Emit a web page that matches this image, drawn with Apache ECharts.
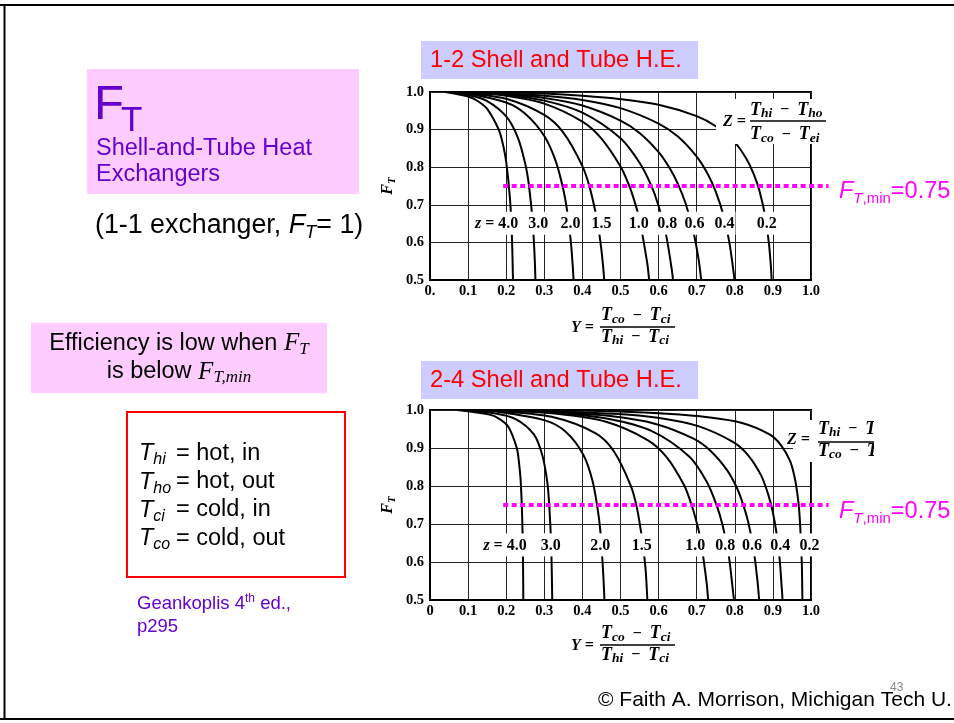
<!DOCTYPE html>
<html><head><meta charset="utf-8">
<script src="https://cdn.jsdelivr.net/npm/echarts@6/dist/echarts.min.js"></script>
<style>html,body{margin:0;padding:0;background:#fff}#c{width:954px;height:723px}</style>
</head><body><div id="c"></div>
<script>
// ---------- data ----------
const zValues = ['4.0','3.0','2.0','1.5','1.0','0.8','0.6','0.4','0.2'];

// 1-2 shell and tube exchanger: [Y, F_T]
const top_z40 = [[0.04,1.0],[0.1,0.988],[0.125,0.976],[0.15,0.955],[0.18,0.901],[0.19,0.867],[0.2,0.814],[0.21,0.715],[0.215,0.615],[0.218,0.49]];
const top_z30 = [[0.045,1.0],[0.1,0.992],[0.15,0.976],[0.2,0.935],[0.23,0.880],[0.25,0.809],[0.26,0.749],[0.27,0.647],[0.275,0.553],[0.277,0.489]];
const top_z20 = [[0.06,1.0],[0.1,0.996],[0.2,0.972],[0.25,0.942],[0.3,0.883],[0.33,0.816],[0.35,0.740],[0.36,0.683],[0.37,0.598],[0.375,0.532],[0.377,0.496]];
const top_z15 = [[0.07,1.0],[0.1,0.997],[0.2,0.982],[0.3,0.939],[0.35,0.892],[0.4,0.803],[0.42,0.743],[0.44,0.651],[0.45,0.579],[0.455,0.529],[0.458,0.489]];
const top_z10 = [[0.09,1.0],[0.2,0.990],[0.3,0.969],[0.4,0.921],[0.45,0.876],[0.5,0.802],[0.52,0.758],[0.535,0.715],[0.55,0.660],[0.57,0.546],[0.575,0.502],[0.577,0.480]];
const top_z08 = [[0.09,1.0],[0.2,0.992],[0.3,0.977],[0.4,0.945],[0.5,0.877],[0.55,0.812],[0.58,0.753],[0.6,0.697],[0.62,0.618],[0.635,0.525],[0.638,0.499],[0.64,0.478]];
const top_z06 = [[0.1,1.0],[0.2,0.994],[0.3,0.984],[0.4,0.964],[0.5,0.924],[0.55,0.891],[0.6,0.840],[0.63,0.796],[0.65,0.757],[0.67,0.706],[0.69,0.635],[0.705,0.555],[0.712,0.499],[0.715,0.468]];
const top_z04 = [[0.12,1.0],[0.3,0.990],[0.4,0.979],[0.5,0.957],[0.6,0.916],[0.65,0.882],[0.7,0.828],[0.73,0.780],[0.75,0.735],[0.77,0.673],[0.785,0.604],[0.795,0.535],[0.7985,0.506],[0.8,0.483]];
const top_z02 = [[0.18,1.0],[0.3,0.996],[0.4,0.990],[0.5,0.981],[0.6,0.966],[0.7,0.936],[0.75,0.909],[0.8,0.866],[0.83,0.823],[0.85,0.781],[0.865,0.736],[0.88,0.668],[0.89,0.593],[0.895,0.532],[0.897,0.496]];

// 2-4 shell and tube exchanger: [Y, F_T]
const bot_z40 = [[0.072,1.0],[0.156,0.988],[0.183,0.976],[0.206,0.955],[0.2275,0.901],[0.233,0.867],[0.238,0.814],[0.242,0.715],[0.244,0.615],[0.245,0.489]];
const bot_z30 = [[0.082,1.0],[0.165,0.992],[0.225,0.976],[0.273,0.935],[0.295,0.880],[0.308,0.809],[0.313,0.749],[0.318,0.647],[0.320,0.553],[0.321,0.489]];
const bot_z20 = [[0.11,1.0],[0.173,0.996],[0.304,0.972],[0.357,0.942],[0.402,0.883],[0.426,0.816],[0.440,0.740],[0.447,0.683],[0.453,0.598],[0.4565,0.532],[0.458,0.496]];
const bot_z15 = [[0.129,1.0],[0.178,0.997],[0.319,0.982],[0.434,0.939],[0.482,0.892],[0.526,0.803],[0.543,0.743],[0.558,0.651],[0.566,0.579],[0.569,0.529],[0.571,0.489]];
const bot_z10 = [[0.165,1.0],[0.333,0.990],[0.462,0.969],[0.571,0.921],[0.621,0.876],[0.667,0.802],[0.684,0.758],[0.697,0.715],[0.710,0.660],[0.726,0.546],[0.730,0.502],[0.732,0.480]];
const bot_z08 = [[0.165,1.0],[0.335,0.992],[0.467,0.977],[0.581,0.945],[0.681,0.877],[0.726,0.812],[0.751,0.753],[0.768,0.697],[0.784,0.618],[0.795,0.525],[0.798,0.499],[0.799,0.478]];
const bot_z06 = [[0.182,1.0],[0.338,0.994],[0.473,0.984],[0.590,0.964],[0.693,0.924],[0.738,0.891],[0.781,0.840],[0.805,0.796],[0.820,0.757],[0.835,0.706],[0.849,0.635],[0.859,0.555],[0.864,0.499],[0.866,0.468]];
const bot_z04 = [[0.216,1.0],[0.481,0.990],[0.602,0.979],[0.706,0.957],[0.795,0.916],[0.834,0.882],[0.869,0.828],[0.887,0.780],[0.899,0.735],[0.910,0.673],[0.918,0.604],[0.923,0.535],[0.925,0.506],[0.9254,0.483]];
const bot_z02 = [[0.320,1.0],[0.496,0.996],[0.622,0.990],[0.729,0.981],[0.819,0.966],[0.891,0.936],[0.920,0.909],[0.945,0.866],[0.957,0.823],[0.964,0.781],[0.969,0.736],[0.973,0.668],[0.976,0.593],[0.977,0.532],[0.9775,0.496]];

// curve label anchors (Y value of each z label, and its F_T level)
const topLabelX = [0.175,0.284,0.369,0.450,0.548,0.623,0.694,0.773,0.884];
const bottomLabelX = [0.197,0.317,0.447,0.556,0.696,0.775,0.845,0.919,0.996];
const topLabelY = 0.651;
const bottomLabelY = 0.645;

// F_T,min reference line
const fTmin = 0.75;
const fTminSpan = [0.192, 1.046];

// tick labels
const yTickLabels = ['0.5','0.6','0.7','0.8','0.9','1.0'];
const xTickLabelsTop = ['0.','0.1','0.2','0.3','0.4','0.5','0.6','0.7','0.8','0.9','1.0'];
const xTickLabelsBottom = ['0','0.1','0.2','0.3','0.4','0.5','0.6','0.7','0.8','0.9','1.0'];

// ---------- styling ----------
const SERIF = "'Liberation Serif', 'DejaVu Serif', serif";
const SANS = "'Liberation Sans', Arial, sans-serif";
const VIOLET = '#6600CC';
const MAGENTA = '#FF00FF';

const topCurves = [top_z40, top_z30, top_z20, top_z15, top_z10, top_z08, top_z06, top_z04, top_z02];
const bottomCurves = [bot_z40, bot_z30, bot_z20, bot_z15, bot_z10, bot_z08, bot_z06, bot_z04, bot_z02];

function curveSeries(data, gi) {
  return { type:'line', xAxisIndex:gi, yAxisIndex:gi, data, symbol:'none', showSymbol:false,
    smooth:0.3, lineStyle:{color:'#000', width:2}, z:3, silent:true };
}
function labelSeries(xs, yv, gi) {
  return { type:'scatter', xAxisIndex:gi, yAxisIndex:gi, data: xs.map(x => [x, yv]),
    symbolSize:1, itemStyle:{color:'#fff', opacity:1}, z:10, silent:true,
    label:{ show:true, position:'inside',
      formatter: p => p.dataIndex === 0 ? '{i|z} = ' + zValues[0] : zValues[p.dataIndex],
      fontFamily:SERIF, fontWeight:'bold', fontSize:16, color:'#000', opacity:1,
      textBorderWidth:0,
      backgroundColor:'#fff', padding:[4,1,3,1],
      rich:{ i:{fontFamily:SERIF, fontWeight:'bold', fontStyle:'italic', fontSize:16, color:'#000'} } } };
}
function minLine(gi) {
  return { type:'custom', xAxisIndex:gi, yAxisIndex:gi, clip:false, z:8, silent:true,
    data: [[fTminSpan[0], fTminSpan[1], fTmin]],
    encode:{ x:[0,1], y:2 },
    renderItem: (params, api) => {
      const p1 = api.coord([api.value(0), api.value(2)]);
      const p2 = api.coord([api.value(1), api.value(2)]);
      return { type:'line', shape:{x1:p1[0], y1:p1[1], x2:p2[0], y2:p2[1]},
        style:{ stroke:MAGENTA, lineWidth:4, lineDash:[5,3.5], lineCap:'butt', fill:null } };
    } };
}
function xAxisCfg(gi, labels) {
  return { gridIndex:gi, type:'value', min:0, max:1, interval:0.1,
    axisLine:{show:true, onZero:false, lineStyle:{color:'#000', width:2}},
    axisTick:{show:false},
    splitLine:{show:true, lineStyle:{color:'#222', width:1}},
    axisLabel:{ formatter: v => labels[Math.round(v*10)], fontFamily:SERIF, fontWeight:'bold',
      fontSize:14.5, color:'#000', margin:4, showMinLabel:true, showMaxLabel:true } };
}
function yAxisCfg(gi) {
  return { gridIndex:gi, type:'value', min:0.5, max:1.0, interval:0.1,
    axisLine:{show:true, onZero:false, lineStyle:{color:'#000', width:2}},
    axisTick:{show:false},
    splitLine:{show:true, lineStyle:{color:'#222', width:1}},
    axisLabel:{ formatter: v => yTickLabels[Math.round((v-0.5)*10)], fontFamily:SERIF, fontWeight:'bold',
      fontSize:14.5, color:'#000', margin:6, showMinLabel:true, showMaxLabel:true },
    name:'{f|F}{s|T}', nameLocation:'middle', nameRotate:90, nameGap:32,
    nameTextStyle:{ rich:{
      f:{fontFamily:SERIF, fontStyle:'italic', fontWeight:'bold', fontSize:16, color:'#000', lineHeight:20},
      s:{fontFamily:SERIF, fontStyle:'italic', fontWeight:'bold', fontSize:11, color:'#000', lineHeight:8, verticalAlign:'bottom'} } } };
}

// ---------- graphic helpers (slide annotations) ----------
function richSet(size, color, family, subSize, subLH) {
  return {
    n:{fontFamily:family, fontSize:size, fill:color, lineHeight:size*1.2},
    i:{fontFamily:family, fontStyle:'italic', fontSize:size, fill:color, lineHeight:size*1.2},
    s:{fontFamily:family, fontStyle:'italic', fontSize:subSize, fill:color, lineHeight:subLH, verticalAlign:'bottom'},
    u:{fontFamily:family, fontSize:subSize, fill:color, lineHeight:subLH, verticalAlign:'bottom'},
    sup:{fontFamily:family, fontSize:subSize, fill:color, lineHeight:subLH, verticalAlign:'top'}
  };
}
function txt(x, y, text, o) {
  const st = Object.assign({ text, fill:'#000', fontFamily:SANS, fontSize:23.5,
    align:'left', verticalAlign:'middle', textAlign:'left', textVerticalAlign:'middle' }, o || {});
  if (o && o.align) st.textAlign = o.align;
  return { type:'text', x, y, z:100, silent:true, style:st };
}
function rect(x, y, w, h, style, z) {
  return { type:'rect', shape:{x, y, width:w, height:h}, style, z: z || 1, silent:true };
}
function hline(x1, x2, y, w, z) {
  return { type:'line', shape:{x1, y1:y, x2, y2:y}, style:{stroke:'#000', lineWidth:w}, z: z || 100, silent:true };
}
const fRich = {
  T:{fontFamily:SERIF, fontStyle:'italic', fontWeight:'bold', fontSize:18, fill:'#000', lineHeight:21},
  s:{fontFamily:SERIF, fontStyle:'italic', fontWeight:'bold', fontSize:13.5, fill:'#000', lineHeight:11.4, verticalAlign:'bottom'},
  m:{fontFamily:SERIF, fontWeight:'bold', fontSize:16, fill:'#000', lineHeight:21}
};
function fracText(x, y, a, b) {
  return txt(x, y, '{T|T}{s|' + a + '}{m|  \u2212  }{T|T}{s|' + b + '}', {rich:fRich});
}
function yFormula(dy) {
  return [
    txt(571, 327.6 + dy, 'Y =', {fontFamily:SERIF, fontStyle:'italic', fontWeight:'bold', fontSize:16}),
    fracText(601, 315.6 + dy, 'co', 'ci'),
    hline(600, 675, 327 + dy, 1.5),
    fracText(601, 336.9 + dy, 'hi', 'ci')
  ];
}

const sansR = richSet(23.5, '#000', SANS, 16, 13);
const violetR = richSet(18.5, VIOLET, SANS, 12, 12);
const magR = richSet(23.5, MAGENTA, SANS, 15, 12.3);
const effR = {
  n:{fontFamily:SANS, fontSize:23.5, fill:'#000', lineHeight:28},
  i:{fontFamily:SERIF, fontStyle:'italic', fontSize:25, fill:'#000', lineHeight:28},
  s:{fontFamily:SERIF, fontStyle:'italic', fontSize:17, fill:'#000', lineHeight:12, verticalAlign:'bottom'}
};
const exR = richSet(26.8, '#000', SANS, 18.5, 14);

const graphics = [
  // slide frame
  { type:'line', shape:{x1:0, y1:5, x2:954, y2:5}, style:{stroke:'#000', lineWidth:2}, z:1, silent:true },
  { type:'line', shape:{x1:4.5, y1:4, x2:4.5, y2:720}, style:{stroke:'#000', lineWidth:2}, z:1, silent:true },
  { type:'line', shape:{x1:0, y1:719, x2:954, y2:719}, style:{stroke:'#000', lineWidth:2}, z:1, silent:true },
  // title block
  rect(87, 69, 272, 125, {fill:'#FFCCFF'}),
  txt(94, 105, 'F', {fontSize:49, fill:VIOLET}),
  txt(121, 121, 'T', {fontSize:35, fill:VIOLET}),
  txt(96, 149, 'Shell-and-Tube Heat', {fill:VIOLET}),
  txt(96, 175, 'Exchangers', {fill:VIOLET}),
  txt(95, 226, '{n|(1-1 exchanger, }{i|F}{s|T}{n|= 1)}', {rich:exR}),
  // efficiency note
  rect(31, 323, 296, 70, {fill:'#FFCCFF'}),
  txt(179, 343.7, '{n|Efficiency is low when }{i|F}{s|T}', {rich:effR, align:'center'}),
  txt(179, 372, '{n|is below }{i|F}{s|T,min}', {rich:effR, align:'center'}),
  // definitions box
  rect(127, 412, 218, 165, {fill:'none', stroke:'#FF0000', lineWidth:2}),
  txt(139, 453.7, '{i|T}{s|hi}', {rich:sansR}), txt(176, 453.7, '= hot, in'),
  txt(139, 482, '{i|T}{s|ho}', {rich:sansR}), txt(176, 482, '= hot, out'),
  txt(139, 510, '{i|T}{s|ci}', {rich:sansR}), txt(176, 510, '= cold, in'),
  txt(139, 538.7, '{i|T}{s|co}', {rich:sansR}), txt(176, 538.7, '= cold, out'),
  // source
  txt(137, 603.6, '{n|Geankoplis 4}{sup|th}{n| ed.,}', {rich:violetR}),
  txt(137, 626.6, 'p295', {fontSize:18.5, fill:VIOLET}),
  // chart titles
  rect(421, 41, 277, 38, {fill:'#CCCCFF'}),
  txt(430, 60.1, '1-2 Shell and Tube H.E.', {fill:'#FF0000', fontSize:23.7}),
  rect(421, 361, 277, 38, {fill:'#CCCCFF'}),
  txt(430, 380.1, '2-4 Shell and Tube H.E.', {fill:'#FF0000', fontSize:23.7}),
  // F_T,min labels
  txt(839, 191.9, '{i|F}{s|T}{u|,min}{n|=0.75}', {rich:magR}),
  txt(839, 511.9, '{i|F}{s|T}{u|,min}{n|=0.75}', {rich:magR}),
  // Y formulas
  ...yFormula(0), ...yFormula(318),
  // Z formula, top chart
  rect(716, 99, 112, 45, {fill:'#fff'}, 60),
  txt(723, 121.6, 'Z =', {fontFamily:SERIF, fontStyle:'italic', fontWeight:'bold', fontSize:16}),
  fracText(750, 109.9, 'hi', 'ho'),
  hline(750, 826, 121, 1.5),
  fracText(750, 134.6, 'co', 'ei'),
  // Z formula, bottom chart (cropped at right)
  rect(793, 420, 81, 42, {fill:'#fff'}, 60),
  txt(787, 439.6, 'Z =', {fontFamily:SERIF, fontStyle:'italic', fontWeight:'bold', fontSize:16}),
  fracText(818, 428.9, 'hi', 'ho'),
  hline(818, 880, 442, 1.5),
  fracText(818, 450.9, 'co', 'ci'),
  rect(874, 416, 80, 50, {fill:'#fff'}, 200),
  // footer
  txt(890, 688, '43', {fontSize:12, fill:'#888'}),
  txt(598, 700.4, '\u00A9 Faith A. Morrison, Michigan Tech U.', {fontSize:21})
];

const series = [];
topCurves.forEach(d => series.push(curveSeries(d, 0)));
bottomCurves.forEach(d => series.push(curveSeries(d, 1)));
series.push(labelSeries(topLabelX, topLabelY, 0));
series.push(labelSeries(bottomLabelX, bottomLabelY, 1));
series.push(minLine(0));
series.push(minLine(1));

const chart = echarts.init(document.getElementById('c'));
chart.setOption({
  animation:false,
  backgroundColor:'#fff',
  grid:[
    {left:430, top:92, width:381, height:188, show:true, borderColor:'#000', borderWidth:2, backgroundColor:'transparent'},
    {left:430, top:410, width:381, height:190, show:true, borderColor:'#000', borderWidth:2, backgroundColor:'transparent'}
  ],
  xAxis:[ xAxisCfg(0, xTickLabelsTop), xAxisCfg(1, xTickLabelsBottom) ],
  yAxis:[ yAxisCfg(0), yAxisCfg(1) ],
  series,
  graphic:{ elements: graphics }
});
</script>
</body></html>
